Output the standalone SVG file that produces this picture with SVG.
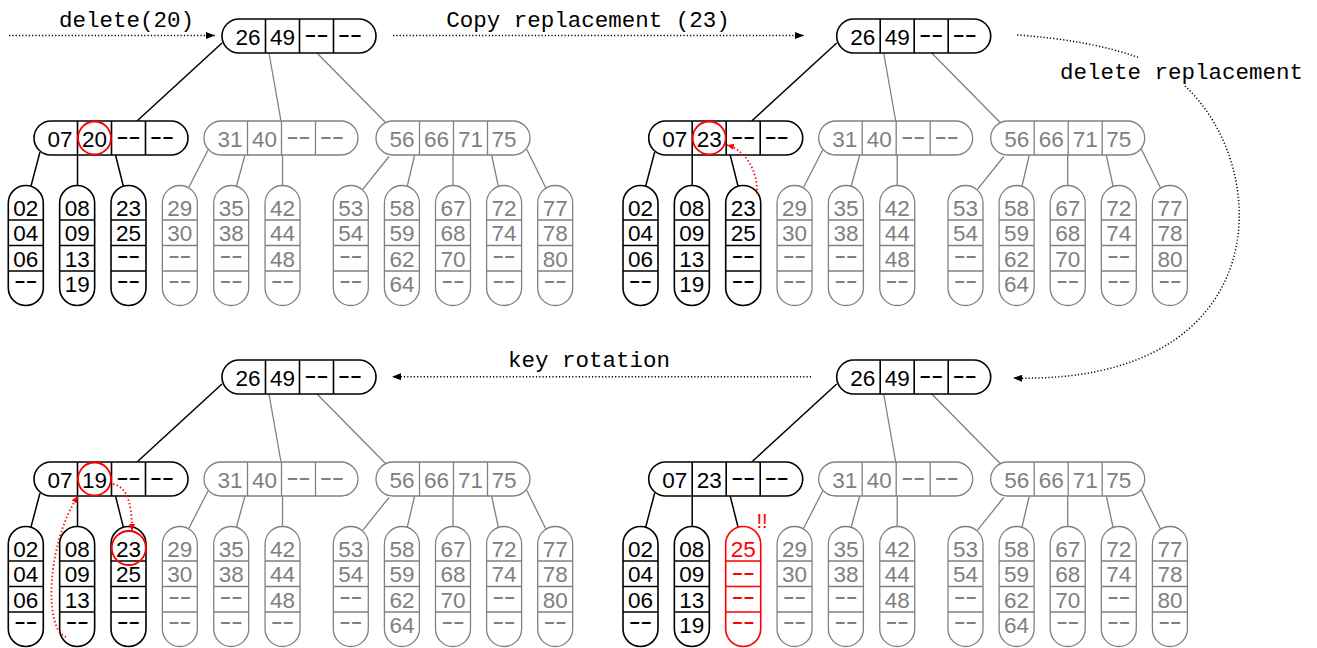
<svg xmlns="http://www.w3.org/2000/svg" width="1317" height="648" viewBox="0 0 1317 648">
<style>
.nd rect{fill:#fff;stroke-width:1.6}
.nd path{fill:none;stroke-width:1.6}
.k rect,.k path{stroke:#000}
.k text{fill:#000}
.g rect,.g path{stroke:#808080;stroke-width:1.3}
.g text{fill:#808080}
.r rect,.r path{stroke:#f00}
.r text{fill:#f00}
text.n{font-family:"Liberation Sans",Arial,sans-serif;font-size:22.5px;text-anchor:middle}
text.m{font-family:"Liberation Sans",Arial,sans-serif;font-size:16px;text-anchor:middle;font-weight:bold}
.lbl{font-family:"Liberation Mono","Courier New",monospace;font-size:22.5px;text-anchor:middle;fill:#000}
.ek{stroke:#000;stroke-width:1.5;fill:none}
.eg{stroke:#808080;stroke-width:1.3;fill:none}
.dot{stroke:#000;stroke-width:1.5;fill:none;stroke-dasharray:1.2 2.1}
.rdot{stroke:#f00;stroke-width:1.8;fill:none;stroke-dasharray:1.4 2.4}
.hl{fill:none;stroke:#f00;stroke-width:1.8}
</style>
<defs>
<marker id="ah" markerUnits="userSpaceOnUse" markerWidth="10" markerHeight="7" refX="9" refY="3.5" orient="auto"><path d="M0,0L9,3.5L0,7z" fill="#000"/></marker>
<marker id="ahr" markerUnits="userSpaceOnUse" markerWidth="8" markerHeight="6" refX="7" refY="3" orient="auto"><path d="M0,0L7,3L0,6z" fill="#f00"/></marker>
</defs>
<rect width="1317" height="648" fill="#fff"/>

<g id="connectors">
<g id="edges-p1">
<path class="ek" d="M222,43L137,121M40,152L31,186M77.5,155L77.5,186M115.5,155L123.3,186"/>
<path class="eg" d="M269,53L281,121M317,53L386,123M208,150L189,187M245,155L236.5,186M282.5,155L282.5,186M389,156.5L362.7,189.3M414.5,155.5L407.3,186M453,155L453,186M491.7,155.5L498.3,186M526.7,149.3L546,188.3"/>
</g>
<g id="edges-p2" transform="translate(614.7,0)">
<path class="ek" d="M222,43L137,121M40,152L31,186M77.5,155L77.5,186M115.5,155L123.3,186"/>
<path class="eg" d="M269,53L281,121M317,53L386,123M208,150L189,187M245,155L236.5,186M282.5,155L282.5,186M389,156.5L362.7,189.3M414.5,155.5L407.3,186M453,155L453,186M491.7,155.5L498.3,186M526.7,149.3L546,188.3"/>
</g>
<g id="edges-p3" transform="translate(614.7,341)">
<path class="ek" d="M222,43L137,121M40,152L31,186M77.5,155L77.5,186M115.5,155L123.3,186"/>
<path class="eg" d="M269,53L281,121M317,53L386,123M208,150L189,187M245,155L236.5,186M282.5,155L282.5,186M389,156.5L362.7,189.3M414.5,155.5L407.3,186M453,155L453,186M491.7,155.5L498.3,186M526.7,149.3L546,188.3"/>
</g>
<g id="edges-p4" transform="translate(0,341)">
<path class="ek" d="M222,43L137,121M40,152L31,186M77.5,155L77.5,186M115.5,155L123.3,186"/>
<path class="eg" d="M269,53L281,121M317,53L386,123M208,150L189,187M245,155L236.5,186M282.5,155L282.5,186M389,156.5L362.7,189.3M414.5,155.5L407.3,186M453,155L453,186M491.7,155.5L498.3,186M526.7,149.3L546,188.3"/>
</g>
<g id="transitions">
<path class="dot" d="M9,35.5L215,35.5" marker-end="url(#ah)"/>
<text class="lbl" x="126.5" y="27">delete(20)</text>
<path class="dot" d="M393,35.5L804,35.5" marker-end="url(#ah)"/>
<text class="lbl" x="588" y="27">Copy replacement (23)</text>
<path class="dot" d="M1017,35Q1090,40 1140,58"/>
<path class="dot" d="M1185,86C1275,170 1275,385 1013,378" marker-end="url(#ah)"/>
<text class="lbl" x="1181.5" y="79">delete replacement</text>
<path class="dot" d="M811,376.7L392,376.7" marker-end="url(#ah)"/>
<text class="lbl" x="589" y="367">key rotation</text>
</g>
</g>

<!-- Panel 1 -->
<g id="panel1">
<g id="p1-root" class="nd k" transform="translate(222,19)"><rect width="154" height="34" rx="17"/><path d="M43.5,0V34M77.5,0V34M111.5,0V34"/><text class="n" x="26" y="26">26</text><text class="n" x="60.5" y="26">49</text><text class="m" x="94.5" y="21" textLength="24" lengthAdjust="spacingAndGlyphs">--</text><text class="m" x="128" y="21" textLength="24" lengthAdjust="spacingAndGlyphs">--</text></g>
<g id="p1-a" class="nd k" transform="translate(34,121)"><rect width="154" height="34" rx="17"/><path d="M43.5,0V34M77.5,0V34M111.5,0V34"/><text class="n" x="26" y="26">07</text><text class="n" x="60.5" y="26">20</text><text class="m" x="94.5" y="21" textLength="24" lengthAdjust="spacingAndGlyphs">--</text><text class="m" x="128" y="21" textLength="24" lengthAdjust="spacingAndGlyphs">--</text></g>
<g id="p1-b" class="nd g" transform="translate(204,121)"><rect width="154" height="34" rx="17"/><path d="M43.5,0V34M77.5,0V34M111.5,0V34"/><text class="n" x="26" y="26">31</text><text class="n" x="60.5" y="26">40</text><text class="m" x="94.5" y="21" textLength="24" lengthAdjust="spacingAndGlyphs">--</text><text class="m" x="128" y="21" textLength="24" lengthAdjust="spacingAndGlyphs">--</text></g>
<g id="p1-c" class="nd g" transform="translate(376,121)"><rect width="154" height="34" rx="17"/><path d="M43.5,0V34M77.5,0V34M111.5,0V34"/><text class="n" x="26" y="26">56</text><text class="n" x="60.5" y="26">66</text><text class="n" x="94.5" y="26">71</text><text class="n" x="128" y="26">75</text></g>
<g id="p1-l1" class="nd k" transform="translate(8.3,185.5)"><rect width="35" height="120" rx="17.5"/><path d="M0,34.5H35M0,60H35M0,85.5H35"/><text class="n" x="17.5" y="30">02</text><text class="n" x="17.5" y="55.5">04</text><text class="n" x="17.5" y="81">06</text><text class="m" x="17.5" y="100.5" textLength="23" lengthAdjust="spacingAndGlyphs">--</text></g>
<g id="p1-l2" class="nd k" transform="translate(59.65,185.5)"><rect width="35" height="120" rx="17.5"/><path d="M0,34.5H35M0,60H35M0,85.5H35"/><text class="n" x="17.5" y="30">08</text><text class="n" x="17.5" y="55.5">09</text><text class="n" x="17.5" y="81">13</text><text class="n" x="17.5" y="106.5">19</text></g>
<g id="p1-l3" class="nd k" transform="translate(111,185.5)"><rect width="35" height="120" rx="17.5"/><path d="M0,34.5H35M0,60H35M0,85.5H35"/><text class="n" x="17.5" y="30">23</text><text class="n" x="17.5" y="55.5">25</text><text class="m" x="17.5" y="75.5" textLength="23" lengthAdjust="spacingAndGlyphs">--</text><text class="m" x="17.5" y="100.5" textLength="23" lengthAdjust="spacingAndGlyphs">--</text></g>
<g id="p1-l4" class="nd g" transform="translate(162.35,185.5)"><rect width="35" height="120" rx="17.5"/><path d="M0,34.5H35M0,60H35M0,85.5H35"/><text class="n" x="17.5" y="30">29</text><text class="n" x="17.5" y="55.5">30</text><text class="m" x="17.5" y="75.5" textLength="23" lengthAdjust="spacingAndGlyphs">--</text><text class="m" x="17.5" y="100.5" textLength="23" lengthAdjust="spacingAndGlyphs">--</text></g>
<g id="p1-l5" class="nd g" transform="translate(213.7,185.5)"><rect width="35" height="120" rx="17.5"/><path d="M0,34.5H35M0,60H35M0,85.5H35"/><text class="n" x="17.5" y="30">35</text><text class="n" x="17.5" y="55.5">38</text><text class="m" x="17.5" y="75.5" textLength="23" lengthAdjust="spacingAndGlyphs">--</text><text class="m" x="17.5" y="100.5" textLength="23" lengthAdjust="spacingAndGlyphs">--</text></g>
<g id="p1-l6" class="nd g" transform="translate(265.05,185.5)"><rect width="35" height="120" rx="17.5"/><path d="M0,34.5H35M0,60H35M0,85.5H35"/><text class="n" x="17.5" y="30">42</text><text class="n" x="17.5" y="55.5">44</text><text class="n" x="17.5" y="81">48</text><text class="m" x="17.5" y="100.5" textLength="23" lengthAdjust="spacingAndGlyphs">--</text></g>
<g id="p1-l7" class="nd g" transform="translate(333.3,185.5)"><rect width="35" height="120" rx="17.5"/><path d="M0,34.5H35M0,60H35M0,85.5H35"/><text class="n" x="17.5" y="30">53</text><text class="n" x="17.5" y="55.5">54</text><text class="m" x="17.5" y="75.5" textLength="23" lengthAdjust="spacingAndGlyphs">--</text><text class="m" x="17.5" y="100.5" textLength="23" lengthAdjust="spacingAndGlyphs">--</text></g>
<g id="p1-l8" class="nd g" transform="translate(384.4,185.5)"><rect width="35" height="120" rx="17.5"/><path d="M0,34.5H35M0,60H35M0,85.5H35"/><text class="n" x="17.5" y="30">58</text><text class="n" x="17.5" y="55.5">59</text><text class="n" x="17.5" y="81">62</text><text class="n" x="17.5" y="106.5">64</text></g>
<g id="p1-l9" class="nd g" transform="translate(435.5,185.5)"><rect width="35" height="120" rx="17.5"/><path d="M0,34.5H35M0,60H35M0,85.5H35"/><text class="n" x="17.5" y="30">67</text><text class="n" x="17.5" y="55.5">68</text><text class="n" x="17.5" y="81">70</text><text class="m" x="17.5" y="100.5" textLength="23" lengthAdjust="spacingAndGlyphs">--</text></g>
<g id="p1-l10" class="nd g" transform="translate(486.6,185.5)"><rect width="35" height="120" rx="17.5"/><path d="M0,34.5H35M0,60H35M0,85.5H35"/><text class="n" x="17.5" y="30">72</text><text class="n" x="17.5" y="55.5">74</text><text class="m" x="17.5" y="75.5" textLength="23" lengthAdjust="spacingAndGlyphs">--</text><text class="m" x="17.5" y="100.5" textLength="23" lengthAdjust="spacingAndGlyphs">--</text></g>
<g id="p1-l11" class="nd g" transform="translate(537.7,185.5)"><rect width="35" height="120" rx="17.5"/><path d="M0,34.5H35M0,60H35M0,85.5H35"/><text class="n" x="17.5" y="30">77</text><text class="n" x="17.5" y="55.5">78</text><text class="n" x="17.5" y="81">80</text><text class="m" x="17.5" y="100.5" textLength="23" lengthAdjust="spacingAndGlyphs">--</text></g>
</g>

<!-- Panel 2 -->
<g id="panel2" transform="translate(614.7,0)">
<g id="p2-root" class="nd k" transform="translate(222,19)"><rect width="154" height="34" rx="17"/><path d="M43.5,0V34M77.5,0V34M111.5,0V34"/><text class="n" x="26" y="26">26</text><text class="n" x="60.5" y="26">49</text><text class="m" x="94.5" y="21" textLength="24" lengthAdjust="spacingAndGlyphs">--</text><text class="m" x="128" y="21" textLength="24" lengthAdjust="spacingAndGlyphs">--</text></g>
<g id="p2-a" class="nd k" transform="translate(34,121)"><rect width="154" height="34" rx="17"/><path d="M43.5,0V34M77.5,0V34M111.5,0V34"/><text class="n" x="26" y="26">07</text><text class="n" x="60.5" y="26">23</text><text class="m" x="94.5" y="21" textLength="24" lengthAdjust="spacingAndGlyphs">--</text><text class="m" x="128" y="21" textLength="24" lengthAdjust="spacingAndGlyphs">--</text></g>
<g id="p2-b" class="nd g" transform="translate(204,121)"><rect width="154" height="34" rx="17"/><path d="M43.5,0V34M77.5,0V34M111.5,0V34"/><text class="n" x="26" y="26">31</text><text class="n" x="60.5" y="26">40</text><text class="m" x="94.5" y="21" textLength="24" lengthAdjust="spacingAndGlyphs">--</text><text class="m" x="128" y="21" textLength="24" lengthAdjust="spacingAndGlyphs">--</text></g>
<g id="p2-c" class="nd g" transform="translate(376,121)"><rect width="154" height="34" rx="17"/><path d="M43.5,0V34M77.5,0V34M111.5,0V34"/><text class="n" x="26" y="26">56</text><text class="n" x="60.5" y="26">66</text><text class="n" x="94.5" y="26">71</text><text class="n" x="128" y="26">75</text></g>
<g id="p2-l1" class="nd k" transform="translate(8.3,185.5)"><rect width="35" height="120" rx="17.5"/><path d="M0,34.5H35M0,60H35M0,85.5H35"/><text class="n" x="17.5" y="30">02</text><text class="n" x="17.5" y="55.5">04</text><text class="n" x="17.5" y="81">06</text><text class="m" x="17.5" y="100.5" textLength="23" lengthAdjust="spacingAndGlyphs">--</text></g>
<g id="p2-l2" class="nd k" transform="translate(59.65,185.5)"><rect width="35" height="120" rx="17.5"/><path d="M0,34.5H35M0,60H35M0,85.5H35"/><text class="n" x="17.5" y="30">08</text><text class="n" x="17.5" y="55.5">09</text><text class="n" x="17.5" y="81">13</text><text class="n" x="17.5" y="106.5">19</text></g>
<g id="p2-l3" class="nd k" transform="translate(111,185.5)"><rect width="35" height="120" rx="17.5"/><path d="M0,34.5H35M0,60H35M0,85.5H35"/><text class="n" x="17.5" y="30">23</text><text class="n" x="17.5" y="55.5">25</text><text class="m" x="17.5" y="75.5" textLength="23" lengthAdjust="spacingAndGlyphs">--</text><text class="m" x="17.5" y="100.5" textLength="23" lengthAdjust="spacingAndGlyphs">--</text></g>
<g id="p2-l4" class="nd g" transform="translate(162.35,185.5)"><rect width="35" height="120" rx="17.5"/><path d="M0,34.5H35M0,60H35M0,85.5H35"/><text class="n" x="17.5" y="30">29</text><text class="n" x="17.5" y="55.5">30</text><text class="m" x="17.5" y="75.5" textLength="23" lengthAdjust="spacingAndGlyphs">--</text><text class="m" x="17.5" y="100.5" textLength="23" lengthAdjust="spacingAndGlyphs">--</text></g>
<g id="p2-l5" class="nd g" transform="translate(213.7,185.5)"><rect width="35" height="120" rx="17.5"/><path d="M0,34.5H35M0,60H35M0,85.5H35"/><text class="n" x="17.5" y="30">35</text><text class="n" x="17.5" y="55.5">38</text><text class="m" x="17.5" y="75.5" textLength="23" lengthAdjust="spacingAndGlyphs">--</text><text class="m" x="17.5" y="100.5" textLength="23" lengthAdjust="spacingAndGlyphs">--</text></g>
<g id="p2-l6" class="nd g" transform="translate(265.05,185.5)"><rect width="35" height="120" rx="17.5"/><path d="M0,34.5H35M0,60H35M0,85.5H35"/><text class="n" x="17.5" y="30">42</text><text class="n" x="17.5" y="55.5">44</text><text class="n" x="17.5" y="81">48</text><text class="m" x="17.5" y="100.5" textLength="23" lengthAdjust="spacingAndGlyphs">--</text></g>
<g id="p2-l7" class="nd g" transform="translate(333.3,185.5)"><rect width="35" height="120" rx="17.5"/><path d="M0,34.5H35M0,60H35M0,85.5H35"/><text class="n" x="17.5" y="30">53</text><text class="n" x="17.5" y="55.5">54</text><text class="m" x="17.5" y="75.5" textLength="23" lengthAdjust="spacingAndGlyphs">--</text><text class="m" x="17.5" y="100.5" textLength="23" lengthAdjust="spacingAndGlyphs">--</text></g>
<g id="p2-l8" class="nd g" transform="translate(384.4,185.5)"><rect width="35" height="120" rx="17.5"/><path d="M0,34.5H35M0,60H35M0,85.5H35"/><text class="n" x="17.5" y="30">58</text><text class="n" x="17.5" y="55.5">59</text><text class="n" x="17.5" y="81">62</text><text class="n" x="17.5" y="106.5">64</text></g>
<g id="p2-l9" class="nd g" transform="translate(435.5,185.5)"><rect width="35" height="120" rx="17.5"/><path d="M0,34.5H35M0,60H35M0,85.5H35"/><text class="n" x="17.5" y="30">67</text><text class="n" x="17.5" y="55.5">68</text><text class="n" x="17.5" y="81">70</text><text class="m" x="17.5" y="100.5" textLength="23" lengthAdjust="spacingAndGlyphs">--</text></g>
<g id="p2-l10" class="nd g" transform="translate(486.6,185.5)"><rect width="35" height="120" rx="17.5"/><path d="M0,34.5H35M0,60H35M0,85.5H35"/><text class="n" x="17.5" y="30">72</text><text class="n" x="17.5" y="55.5">74</text><text class="m" x="17.5" y="75.5" textLength="23" lengthAdjust="spacingAndGlyphs">--</text><text class="m" x="17.5" y="100.5" textLength="23" lengthAdjust="spacingAndGlyphs">--</text></g>
<g id="p2-l11" class="nd g" transform="translate(537.7,185.5)"><rect width="35" height="120" rx="17.5"/><path d="M0,34.5H35M0,60H35M0,85.5H35"/><text class="n" x="17.5" y="30">77</text><text class="n" x="17.5" y="55.5">78</text><text class="n" x="17.5" y="81">80</text><text class="m" x="17.5" y="100.5" textLength="23" lengthAdjust="spacingAndGlyphs">--</text></g>
</g>

<!-- Panel 3 -->
<g id="panel3" transform="translate(614.7,341)">
<g id="p3-root" class="nd k" transform="translate(222,19)"><rect width="154" height="34" rx="17"/><path d="M43.5,0V34M77.5,0V34M111.5,0V34"/><text class="n" x="26" y="26">26</text><text class="n" x="60.5" y="26">49</text><text class="m" x="94.5" y="21" textLength="24" lengthAdjust="spacingAndGlyphs">--</text><text class="m" x="128" y="21" textLength="24" lengthAdjust="spacingAndGlyphs">--</text></g>
<g id="p3-a" class="nd k" transform="translate(34,121)"><rect width="154" height="34" rx="17"/><path d="M43.5,0V34M77.5,0V34M111.5,0V34"/><text class="n" x="26" y="26">07</text><text class="n" x="60.5" y="26">23</text><text class="m" x="94.5" y="21" textLength="24" lengthAdjust="spacingAndGlyphs">--</text><text class="m" x="128" y="21" textLength="24" lengthAdjust="spacingAndGlyphs">--</text></g>
<g id="p3-b" class="nd g" transform="translate(204,121)"><rect width="154" height="34" rx="17"/><path d="M43.5,0V34M77.5,0V34M111.5,0V34"/><text class="n" x="26" y="26">31</text><text class="n" x="60.5" y="26">40</text><text class="m" x="94.5" y="21" textLength="24" lengthAdjust="spacingAndGlyphs">--</text><text class="m" x="128" y="21" textLength="24" lengthAdjust="spacingAndGlyphs">--</text></g>
<g id="p3-c" class="nd g" transform="translate(376,121)"><rect width="154" height="34" rx="17"/><path d="M43.5,0V34M77.5,0V34M111.5,0V34"/><text class="n" x="26" y="26">56</text><text class="n" x="60.5" y="26">66</text><text class="n" x="94.5" y="26">71</text><text class="n" x="128" y="26">75</text></g>
<g id="p3-l1" class="nd k" transform="translate(8.3,185.5)"><rect width="35" height="120" rx="17.5"/><path d="M0,34.5H35M0,60H35M0,85.5H35"/><text class="n" x="17.5" y="30">02</text><text class="n" x="17.5" y="55.5">04</text><text class="n" x="17.5" y="81">06</text><text class="m" x="17.5" y="100.5" textLength="23" lengthAdjust="spacingAndGlyphs">--</text></g>
<g id="p3-l2" class="nd k" transform="translate(59.65,185.5)"><rect width="35" height="120" rx="17.5"/><path d="M0,34.5H35M0,60H35M0,85.5H35"/><text class="n" x="17.5" y="30">08</text><text class="n" x="17.5" y="55.5">09</text><text class="n" x="17.5" y="81">13</text><text class="n" x="17.5" y="106.5">19</text></g>
<g id="p3-l3" class="nd r" transform="translate(111,185.5)"><rect width="35" height="120" rx="17.5"/><path d="M0,34.5H35M0,60H35M0,85.5H35"/><text class="n" x="17.5" y="30">25</text><text class="m" x="17.5" y="51" textLength="23" lengthAdjust="spacingAndGlyphs">--</text><text class="m" x="17.5" y="75.5" textLength="23" lengthAdjust="spacingAndGlyphs">--</text><text class="m" x="17.5" y="100.5" textLength="23" lengthAdjust="spacingAndGlyphs">--</text></g>
<g id="p3-l4" class="nd g" transform="translate(162.35,185.5)"><rect width="35" height="120" rx="17.5"/><path d="M0,34.5H35M0,60H35M0,85.5H35"/><text class="n" x="17.5" y="30">29</text><text class="n" x="17.5" y="55.5">30</text><text class="m" x="17.5" y="75.5" textLength="23" lengthAdjust="spacingAndGlyphs">--</text><text class="m" x="17.5" y="100.5" textLength="23" lengthAdjust="spacingAndGlyphs">--</text></g>
<g id="p3-l5" class="nd g" transform="translate(213.7,185.5)"><rect width="35" height="120" rx="17.5"/><path d="M0,34.5H35M0,60H35M0,85.5H35"/><text class="n" x="17.5" y="30">35</text><text class="n" x="17.5" y="55.5">38</text><text class="m" x="17.5" y="75.5" textLength="23" lengthAdjust="spacingAndGlyphs">--</text><text class="m" x="17.5" y="100.5" textLength="23" lengthAdjust="spacingAndGlyphs">--</text></g>
<g id="p3-l6" class="nd g" transform="translate(265.05,185.5)"><rect width="35" height="120" rx="17.5"/><path d="M0,34.5H35M0,60H35M0,85.5H35"/><text class="n" x="17.5" y="30">42</text><text class="n" x="17.5" y="55.5">44</text><text class="n" x="17.5" y="81">48</text><text class="m" x="17.5" y="100.5" textLength="23" lengthAdjust="spacingAndGlyphs">--</text></g>
<g id="p3-l7" class="nd g" transform="translate(333.3,185.5)"><rect width="35" height="120" rx="17.5"/><path d="M0,34.5H35M0,60H35M0,85.5H35"/><text class="n" x="17.5" y="30">53</text><text class="n" x="17.5" y="55.5">54</text><text class="m" x="17.5" y="75.5" textLength="23" lengthAdjust="spacingAndGlyphs">--</text><text class="m" x="17.5" y="100.5" textLength="23" lengthAdjust="spacingAndGlyphs">--</text></g>
<g id="p3-l8" class="nd g" transform="translate(384.4,185.5)"><rect width="35" height="120" rx="17.5"/><path d="M0,34.5H35M0,60H35M0,85.5H35"/><text class="n" x="17.5" y="30">58</text><text class="n" x="17.5" y="55.5">59</text><text class="n" x="17.5" y="81">62</text><text class="n" x="17.5" y="106.5">64</text></g>
<g id="p3-l9" class="nd g" transform="translate(435.5,185.5)"><rect width="35" height="120" rx="17.5"/><path d="M0,34.5H35M0,60H35M0,85.5H35"/><text class="n" x="17.5" y="30">67</text><text class="n" x="17.5" y="55.5">68</text><text class="n" x="17.5" y="81">70</text><text class="m" x="17.5" y="100.5" textLength="23" lengthAdjust="spacingAndGlyphs">--</text></g>
<g id="p3-l10" class="nd g" transform="translate(486.6,185.5)"><rect width="35" height="120" rx="17.5"/><path d="M0,34.5H35M0,60H35M0,85.5H35"/><text class="n" x="17.5" y="30">72</text><text class="n" x="17.5" y="55.5">74</text><text class="m" x="17.5" y="75.5" textLength="23" lengthAdjust="spacingAndGlyphs">--</text><text class="m" x="17.5" y="100.5" textLength="23" lengthAdjust="spacingAndGlyphs">--</text></g>
<g id="p3-l11" class="nd g" transform="translate(537.7,185.5)"><rect width="35" height="120" rx="17.5"/><path d="M0,34.5H35M0,60H35M0,85.5H35"/><text class="n" x="17.5" y="30">77</text><text class="n" x="17.5" y="55.5">78</text><text class="n" x="17.5" y="81">80</text><text class="m" x="17.5" y="100.5" textLength="23" lengthAdjust="spacingAndGlyphs">--</text></g>
</g>

<!-- Panel 4 -->
<g id="panel4" transform="translate(0,341)">
<g id="p4-root" class="nd k" transform="translate(222,19)"><rect width="154" height="34" rx="17"/><path d="M43.5,0V34M77.5,0V34M111.5,0V34"/><text class="n" x="26" y="26">26</text><text class="n" x="60.5" y="26">49</text><text class="m" x="94.5" y="21" textLength="24" lengthAdjust="spacingAndGlyphs">--</text><text class="m" x="128" y="21" textLength="24" lengthAdjust="spacingAndGlyphs">--</text></g>
<g id="p4-a" class="nd k" transform="translate(34,121)"><rect width="154" height="34" rx="17"/><path d="M43.5,0V34M77.5,0V34M111.5,0V34"/><text class="n" x="26" y="26">07</text><text class="n" x="60.5" y="26">19</text><text class="m" x="94.5" y="21" textLength="24" lengthAdjust="spacingAndGlyphs">--</text><text class="m" x="128" y="21" textLength="24" lengthAdjust="spacingAndGlyphs">--</text></g>
<g id="p4-b" class="nd g" transform="translate(204,121)"><rect width="154" height="34" rx="17"/><path d="M43.5,0V34M77.5,0V34M111.5,0V34"/><text class="n" x="26" y="26">31</text><text class="n" x="60.5" y="26">40</text><text class="m" x="94.5" y="21" textLength="24" lengthAdjust="spacingAndGlyphs">--</text><text class="m" x="128" y="21" textLength="24" lengthAdjust="spacingAndGlyphs">--</text></g>
<g id="p4-c" class="nd g" transform="translate(376,121)"><rect width="154" height="34" rx="17"/><path d="M43.5,0V34M77.5,0V34M111.5,0V34"/><text class="n" x="26" y="26">56</text><text class="n" x="60.5" y="26">66</text><text class="n" x="94.5" y="26">71</text><text class="n" x="128" y="26">75</text></g>
<g id="p4-l1" class="nd k" transform="translate(8.3,185.5)"><rect width="35" height="120" rx="17.5"/><path d="M0,34.5H35M0,60H35M0,85.5H35"/><text class="n" x="17.5" y="30">02</text><text class="n" x="17.5" y="55.5">04</text><text class="n" x="17.5" y="81">06</text><text class="m" x="17.5" y="100.5" textLength="23" lengthAdjust="spacingAndGlyphs">--</text></g>
<g id="p4-l2" class="nd k" transform="translate(59.65,185.5)"><rect width="35" height="120" rx="17.5"/><path d="M0,34.5H35M0,60H35M0,85.5H35"/><text class="n" x="17.5" y="30">08</text><text class="n" x="17.5" y="55.5">09</text><text class="n" x="17.5" y="81">13</text><text class="m" x="17.5" y="100.5" textLength="23" lengthAdjust="spacingAndGlyphs">--</text></g>
<g id="p4-l3" class="nd k" transform="translate(111,185.5)"><rect width="35" height="120" rx="17.5"/><path d="M0,34.5H35M0,60H35M0,85.5H35"/><text class="n" x="17.5" y="30">23</text><text class="n" x="17.5" y="55.5">25</text><text class="m" x="17.5" y="75.5" textLength="23" lengthAdjust="spacingAndGlyphs">--</text><text class="m" x="17.5" y="100.5" textLength="23" lengthAdjust="spacingAndGlyphs">--</text></g>
<g id="p4-l4" class="nd g" transform="translate(162.35,185.5)"><rect width="35" height="120" rx="17.5"/><path d="M0,34.5H35M0,60H35M0,85.5H35"/><text class="n" x="17.5" y="30">29</text><text class="n" x="17.5" y="55.5">30</text><text class="m" x="17.5" y="75.5" textLength="23" lengthAdjust="spacingAndGlyphs">--</text><text class="m" x="17.5" y="100.5" textLength="23" lengthAdjust="spacingAndGlyphs">--</text></g>
<g id="p4-l5" class="nd g" transform="translate(213.7,185.5)"><rect width="35" height="120" rx="17.5"/><path d="M0,34.5H35M0,60H35M0,85.5H35"/><text class="n" x="17.5" y="30">35</text><text class="n" x="17.5" y="55.5">38</text><text class="m" x="17.5" y="75.5" textLength="23" lengthAdjust="spacingAndGlyphs">--</text><text class="m" x="17.5" y="100.5" textLength="23" lengthAdjust="spacingAndGlyphs">--</text></g>
<g id="p4-l6" class="nd g" transform="translate(265.05,185.5)"><rect width="35" height="120" rx="17.5"/><path d="M0,34.5H35M0,60H35M0,85.5H35"/><text class="n" x="17.5" y="30">42</text><text class="n" x="17.5" y="55.5">44</text><text class="n" x="17.5" y="81">48</text><text class="m" x="17.5" y="100.5" textLength="23" lengthAdjust="spacingAndGlyphs">--</text></g>
<g id="p4-l7" class="nd g" transform="translate(333.3,185.5)"><rect width="35" height="120" rx="17.5"/><path d="M0,34.5H35M0,60H35M0,85.5H35"/><text class="n" x="17.5" y="30">53</text><text class="n" x="17.5" y="55.5">54</text><text class="m" x="17.5" y="75.5" textLength="23" lengthAdjust="spacingAndGlyphs">--</text><text class="m" x="17.5" y="100.5" textLength="23" lengthAdjust="spacingAndGlyphs">--</text></g>
<g id="p4-l8" class="nd g" transform="translate(384.4,185.5)"><rect width="35" height="120" rx="17.5"/><path d="M0,34.5H35M0,60H35M0,85.5H35"/><text class="n" x="17.5" y="30">58</text><text class="n" x="17.5" y="55.5">59</text><text class="n" x="17.5" y="81">62</text><text class="n" x="17.5" y="106.5">64</text></g>
<g id="p4-l9" class="nd g" transform="translate(435.5,185.5)"><rect width="35" height="120" rx="17.5"/><path d="M0,34.5H35M0,60H35M0,85.5H35"/><text class="n" x="17.5" y="30">67</text><text class="n" x="17.5" y="55.5">68</text><text class="n" x="17.5" y="81">70</text><text class="m" x="17.5" y="100.5" textLength="23" lengthAdjust="spacingAndGlyphs">--</text></g>
<g id="p4-l10" class="nd g" transform="translate(486.6,185.5)"><rect width="35" height="120" rx="17.5"/><path d="M0,34.5H35M0,60H35M0,85.5H35"/><text class="n" x="17.5" y="30">72</text><text class="n" x="17.5" y="55.5">74</text><text class="m" x="17.5" y="75.5" textLength="23" lengthAdjust="spacingAndGlyphs">--</text><text class="m" x="17.5" y="100.5" textLength="23" lengthAdjust="spacingAndGlyphs">--</text></g>
<g id="p4-l11" class="nd g" transform="translate(537.7,185.5)"><rect width="35" height="120" rx="17.5"/><path d="M0,34.5H35M0,60H35M0,85.5H35"/><text class="n" x="17.5" y="30">77</text><text class="n" x="17.5" y="55.5">78</text><text class="n" x="17.5" y="81">80</text><text class="m" x="17.5" y="100.5" textLength="23" lengthAdjust="spacingAndGlyphs">--</text></g>
</g>

<g id="highlights">
<circle class="hl" cx="94.5" cy="138" r="16.5"/>
<circle class="hl" cx="709.2" cy="138" r="16.5"/>
<circle class="hl" cx="94.5" cy="479" r="16.5"/>
<circle class="hl" cx="128.8" cy="548" r="17"/>
<path class="rdot" d="M757,194C758,170 745,150 727,145" marker-end="url(#ahr)"/>
<path class="rdot" d="M66,637C44,630 46,545 78,496" marker-end="url(#ahr)"/>
<path class="rdot" d="M113,484C126,487 132,500 132,531" marker-end="url(#ahr)"/>
<text x="762" y="528" font-family="Liberation Sans, Arial, sans-serif" font-size="20" fill="#f00" text-anchor="middle">!!</text>
</g>
</svg>
